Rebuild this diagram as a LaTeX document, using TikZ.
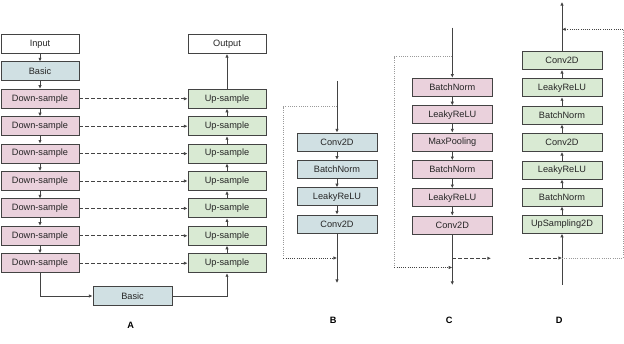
\documentclass[tikz,border=0pt]{standalone}
\usepackage{fontspec}
\setmainfont{Liberation Sans}
\usetikzlibrary{arrows.meta}
\definecolor{cblue}{HTML}{D0E0E3}
\definecolor{cpink}{HTML}{EAD1DC}
\definecolor{cgreen}{HTML}{D9EAD3}
\definecolor{cline}{HTML}{434343}
\definecolor{cdot}{HTML}{9A9A9A}
\begin{document}
\begin{tikzpicture}[x=1pt,y=-1pt,
  box/.style={draw=cline,line width=0.9pt,rectangle,inner sep=0pt,font=\fontsize{9.2}{10}\selectfont,text=black!85},
  abox/.style={box,minimum width=78pt,minimum height=19pt},
  bbox/.style={box,minimum width=80pt,minimum height=18pt},
  blu/.style={fill=cblue},pnk/.style={fill=cpink},grn/.style={fill=cgreen},wht/.style={fill=white},
  conn/.style={draw=cline,line width=0.9pt,-{Latex[length=3.6pt,width=3.4pt]}},
  plain/.style={draw=cline,line width=0.9pt},
  dsh/.style={draw=cline,line width=0.8pt,dash pattern=on 3.5pt off 2.5pt,-{Latex[length=3.6pt,width=3.4pt]}},
  dsh0/.style={draw=cline,line width=0.8pt,dash pattern=on 3.5pt off 2.5pt},
  dtt/.style={draw=cdot,line width=0.8pt,dash pattern=on 1pt off 1.2pt},
  dtta/.style={dtt,-{Latex[length=3.6pt,width=3.4pt]},cline},
  lbl/.style={font=\bfseries\fontsize{9.2}{10}\selectfont,inner sep=0pt}]
\useasboundingbox (0,0) rectangle (624,344);
% ---------------- Panel A
\node[abox,wht] (in) at (40,44) {Input};
\node[abox,blu] (ba) at (40,71.4) {Basic};
\foreach \i in {1,...,7}{
  \pgfmathsetmacro{\yy}{44+27.4*(\i+1)}
  \node[abox,pnk] (ds\i) at (40,\yy) {Down-sample};
  \node[abox,grn] (us\i) at (227,\yy) {Up-sample};
  \draw[dsh] (ds\i.east) -- (us\i.west);
}
\node[abox,wht] (out) at (227,44) {Output};
\node[box,blu,minimum width=79pt,minimum height=18.5pt] (bb) at (132.5,296) {Basic};
\draw[conn] (in) -- (ba);
\draw[conn] (ba) -- (ds1);
\foreach \i/\j in {1/2,2/3,3/4,4/5,5/6,6/7}{
  \draw[conn] (ds\i) -- (ds\j);
  \draw[conn] (us\j) -- (us\i);
}
\draw[conn] (us1) -- (out);
\draw[conn] (ds7.south) |- (bb.west);
\draw[conn] (bb.east) -| (us7.south);
\node[lbl] (la) at (130.7,325.7) {A};
% ---------------- Panel B
\coordinate (bin) at (337,81);
\coordinate (bsp) at (337,106.7);
\coordinate (bjn) at (337,258);
\coordinate (bout) at (337,283);
\coordinate (bl1) at (283.3,106.7);
\coordinate (bl2) at (283.3,258);
\node[bbox,blu] (b1) at (337,142) {Conv2D};
\node[bbox,blu] (b2) at (337,169.3) {BatchNorm};
\node[bbox,blu] (b3) at (337,196.8) {LeakyReLU};
\node[bbox,blu] (b4) at (337,224) {Conv2D};
\draw[conn] (bin) -- (b1);
\draw[conn] (b1) -- (b2);
\draw[conn] (b2) -- (b3);
\draw[conn] (b3) -- (b4);
\draw[conn] (b4) -- (bout);
\draw[dtt] (bsp) -- (bl1) -- (bl2);
\draw[dtta] (bl2) -- (bjn);
\node[lbl] (lb) at (333.3,320.7) {B};
% ---------------- Panel C
\coordinate (cin) at (452.3,27.7);
\coordinate (csp) at (452.3,56.7);
\coordinate (cjn) at (452.3,267.5);
\coordinate (cdsh) at (452.3,258.3);
\coordinate (cdshe) at (491,258.3);
\coordinate (cout) at (452.3,285);
\coordinate (cl1) at (394.3,56.7);
\coordinate (cl2) at (394.3,267.5);
\node[bbox,pnk] (c1) at (452.3,87.2) {BatchNorm};
\node[bbox,pnk] (c2) at (452.3,114.8) {LeakyReLU};
\node[bbox,pnk] (c3) at (452.3,142) {MaxPooling};
\node[bbox,pnk] (c4) at (452.3,169.7) {BatchNorm};
\node[bbox,pnk] (c5) at (452.3,197.7) {LeakyReLU};
\node[bbox,pnk] (c6) at (452.3,225) {Conv2D};
\draw[conn] (cin) -- (c1);
\draw[conn] (c1) -- (c2);
\draw[conn] (c2) -- (c3);
\draw[conn] (c3) -- (c4);
\draw[conn] (c4) -- (c5);
\draw[conn] (c5) -- (c6);
\draw[conn] (c6) -- (cout);
\draw[dsh] (cdsh) -- (cdshe);
\draw[dtt] (csp) -- (cl1) -- (cl2);
\draw[dtta] (cl2) -- (cjn);
\node[lbl] (lc) at (449.3,320.7) {C};
% ---------------- Panel D
\coordinate (din) at (562,285);
\coordinate (dsp) at (562,258);
\coordinate (djn) at (562,29.3);
\coordinate (dout) at (562,2);
\coordinate (dr1) at (623.3,258);
\coordinate (dr2) at (623.3,29.3);
\coordinate (ddsh) at (529,258);
\node[bbox,grn] (d1) at (562,224.3) {UpSampling2D};
\node[bbox,grn] (d2) at (562,197) {BatchNorm};
\node[bbox,grn] (d3) at (562,170) {LeakyReLU};
\node[bbox,grn] (d4) at (562,142.5) {Conv2D};
\node[bbox,grn] (d5) at (562,115) {BatchNorm};
\node[bbox,grn] (d6) at (562,87.7) {LeakyReLU};
\node[bbox,grn] (d7) at (562,60.5) {Conv2D};
\draw[conn] (din) -- (d1);
\draw[conn] (d1) -- (d2);
\draw[conn] (d2) -- (d3);
\draw[conn] (d3) -- (d4);
\draw[conn] (d4) -- (d5);
\draw[conn] (d5) -- (d6);
\draw[conn] (d6) -- (d7);
\draw[conn] (d7) -- (dout);
\draw[dsh] (ddsh) -- (dsp);
\draw[dtt] (dsp) -- (dr1) -- (dr2);
\draw[dtta] (dr2) -- (djn);
\node[lbl] (ld) at (559.3,320.7) {D};
\end{tikzpicture}
\end{document}
